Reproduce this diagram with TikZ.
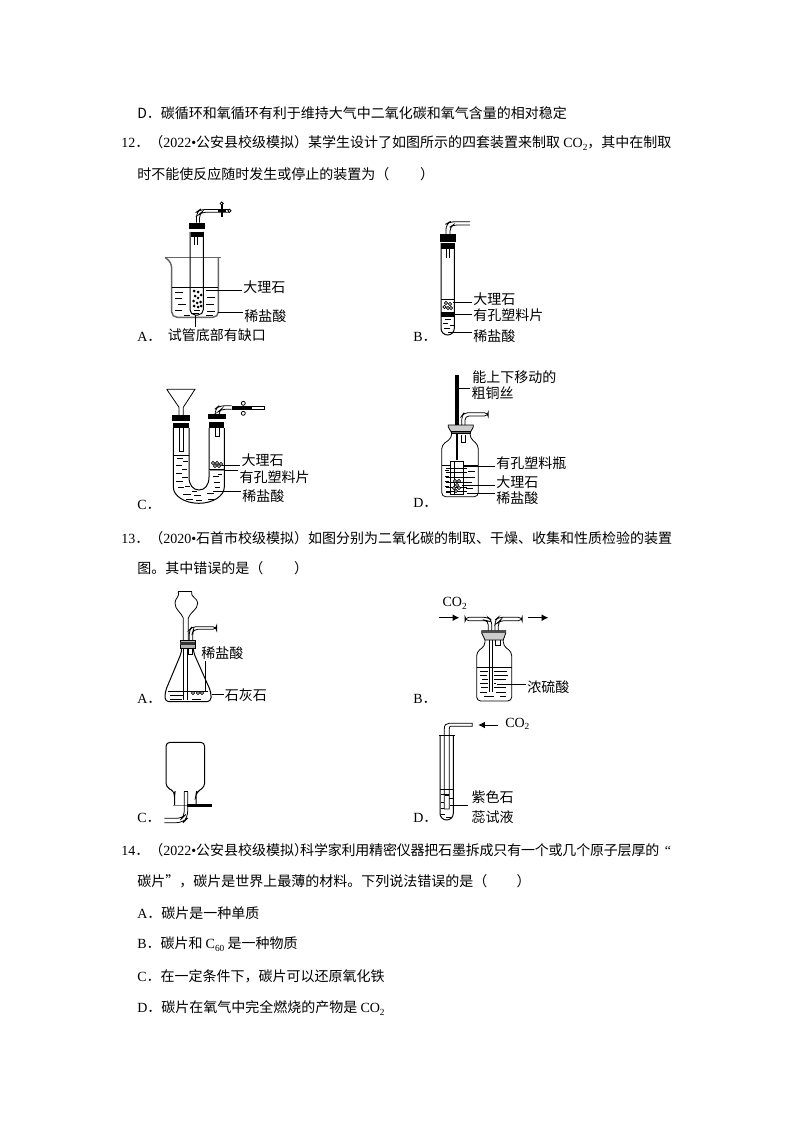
\documentclass[tikz,border=0pt]{standalone}
\usepackage{fontspec}
\setmainfont{Noto Sans CJK SC}
\newfontfamily\latf{Liberation Serif}
\newcommand{\lt}[1]{{\latf #1}}
\newcommand{\sbs}[1]{\raisebox{-0.35ex}{\latf\scriptsize #1}}
\usetikzlibrary{arrows.meta}
\tikzset{
  x=0.75pt,y=-0.75pt,
  line/.style={draw=black,line width=0.6pt},
  leader/.style={draw=black,line width=0.6pt},
  glass/.style={draw=black,line width=0.75pt},
  graywall/.style={draw=black!60,line width=1.1pt},
  liquid/.style={draw=black,line width=0.5pt},
  plug/.style={fill=black,draw=none},
  txt/.style={anchor=west,inner sep=0pt,font=\fontsize{10.5pt}{10.5pt}\selectfont},
  lbl/.style={anchor=west,inner xsep=0.75pt,inner ysep=0pt,font=\fontsize{10.5pt}{10.5pt}\selectfont},
  flow/.style={draw=black,line width=0.6pt,-{Latex[length=5pt,width=5pt]}},
}
% horizontal dash: x, y, length
\newcommand{\dsh}[1]{\foreach \a/\b/\c in {#1}{\draw[liquid] (\a,\b) -- ++(\c,0);}}
\newcommand{\balls}[1]{\foreach \a/\b in {#1}{\draw[line width=0.5pt,fill=white] (\a,\b) circle (1.7);}}
\begin{document}
\begin{tikzpicture}
\useasboundingbox (0,0) rectangle (794,1123);
\fill[white] (0,0) rectangle (794,1123);
%---- text lines
\node[txt] (t1) at (137,113) {D．碳循环和氧循环有利于维持大气中二氧化碳和氧气含量的相对稳定};
\node[txt] (t2) at (121,143) {\lt{12}．（\lt{2022•}公安县校级模拟）某学生设计了如图所示的四套装置来制取 \lt{CO}\sbs{2}，其中在制取};
\node[txt] (t3) at (137,174) {时不能使反应随时发生或停止的装置为（\hspace{2.2em}）};
\node[txt] (t4) at (121,538) {\lt{13}．（\lt{2020•}石首市校级模拟）如图分别为二氧化碳的制取、干燥、收集和性质检验的装置};
\node[txt] (t5) at (137,568) {图。其中错误的是（\hspace{2.2em}）};
\node[txt] (t6) at (121,850) {\lt{14}．（\lt{2022•}公安县校级模拟）\hspace{-0.57em}{\addfontfeature{LetterSpace=-1.4}科学家利用精密仪器把石墨拆成只有一个或几个原子层厚的}\hspace{0.4em}\lt{“}};
\node[txt] (t7) at (137,881) {碳片”，碳片是世界上最薄的材料。下列说法错误的是（\hspace{2.1em}）};
\node[txt] (t8) at (137,913) {\lt{A}．碳片是一种单质};
\node[txt] (t9) at (137,944) {\lt{B}．碳片和 \lt{C}\sbs{60} 是一种物质};
\node[txt] (t10) at (137,976) {\lt{C}．在一定条件下，碳片可以还原氧化铁};
\node[txt] (t11) at (137,1008) {\lt{D}．碳片在氧气中完全燃烧的产物是 \lt{CO}\sbs{2}};
\node[txt] (o1) at (137,337) {\lt{A}．};
\node[txt] (o2) at (413,337) {\lt{B}．};
\node[txt] (o3) at (137,505) {\lt{C}．};
\node[txt] (o4) at (413,503) {\lt{D}．};
\node[txt] (o5) at (137,699) {\lt{A}．};
\node[txt] (o6) at (413,699) {\lt{B}．};
\node[txt] (o7) at (137,818) {\lt{C}．};
\node[txt] (o8) at (413,818) {\lt{D}．};

%---- Q12 A
\draw[graywall] (165,257.5) -- (220.7,257.5);
\draw[graywall,rounded corners=4] (165,257.5) -- (171.5,262) -- (171.7,317.3) -- (218.3,317.3) -- (218.3,258);
\draw[line] (171.7,287.7) -- (218.3,287.7);
\dsh{175/292/8,206/290/7,175/298/7,207/297/8,178/304/8,206/304/8,175/310/7,207/311/8,184/315/6,206/315/7,194/310/6,192/313/7}
\draw[glass,rounded corners=4] (190,232) -- (190,315) -- (203.3,315) -- (203.3,232);
\fill[plug] (189,222.7) rectangle (205,229.3);
\fill[plug] (190.7,231.7) rectangle (203.3,237.3);
\draw[line] (194,237) -- (194,245) (197.7,237) -- (197.7,245);
\draw[line,rounded corners=4] (196.5,222.7) -- (196.5,212) -- (200,209.5) -- (230,209.5);
\draw[line,rounded corners=3] (199.5,222.7) -- (199.5,214) -- (201.5,212.3) -- (230,212.3);
\fill[plug] (218,209.3) rectangle (226,212.5);
\draw[line,line width=1.2pt] (221.7,204) -- (221.7,217);
\draw[line,fill=white] (221.7,203.5) circle (1.6);
\draw[line,fill=white] (229.5,210.8) circle (1.6);
\foreach \a/\b in {194/291,198/292,201/295,195/296,198/298,193.5/301,197/303,200.5/302,194/306,198/307,201/306}{\fill (\a,\b) circle (1.5);}
\foreach \a/\b in {196/294,199.5/299,195.5/304}{\fill[white] (\a,\b) circle (0.8);}
\node[lbl] (a1) at (242,286.7) {大理石};
\node[lbl] (a2) at (243,315.7) {稀盐酸};
\node[lbl] (a3) at (166.7,335) {试管底部有缺口};
\draw[leader] (207,290) -- (207,290 -| a1.west);
\draw[leader] (218,312.3) -- (218,312.3 -| a2.west);
\draw[leader] (195.7,315) -- (195.7,327);

%---- Q12 B
\draw[glass,rounded corners=5] (441,243) -- (441,335) -- (454.3,335) -- (454.3,243);
\fill[plug] (440,234.3) rectangle (455.7,241.7);
\fill[plug] (441,243.3) rectangle (454.3,249.3);
\draw[line] (446,249) -- (446,257.7) (449.3,249) -- (449.3,257.7);
\draw[line,rounded corners=4] (446,234.3) -- (446,224) -- (450,221.7) -- (470,221.7);
\draw[line,rounded corners=3] (450,234.3) -- (450,227) -- (453,225) -- (470,225);
\draw[line] (441,299.3) -- (454.3,299.3);
\fill[plug] (441,312.3) rectangle (454.3,316.7);
\dsh{445/319/6,443/323/5,450/325/4,444/328/6,448/332/5}
\balls{446/303,450/304,444.5/307,448/308,451/308}
\node[lbl] (b1) at (472,299) {大理石};
\node[lbl] (b2) at (472,315) {有孔塑料片};
\node[lbl] (b3) at (472,336) {稀盐酸};
\draw[leader] (453.3,302.7) -- (453.3,302.7 -| b1.west);
\draw[leader] (454.3,314.3) -- (454.3,314.3 -| b2.west);
\draw[leader] (451.7,332.3) -- (451.7,332.3 -| b3.west);

%---- Q12 C
\draw[line] (166.7,389.3) -- (195,389.3) -- (183.3,407.3) -- (183.3,415) (166.7,389.3) -- (179,407.3) -- (179,415);
\draw[line] (179,428) -- (179,451.7) -- (183.3,451.7) -- (183.3,428);
\fill[plug] (172.3,415) rectangle (190,420.7);
\fill[plug] (173.3,422.7) rectangle (189,428.3);
\fill[plug] (207.7,414.3) rectangle (225.7,419.3);
\fill[plug] (209.3,421.7) rectangle (224.3,427.7);
\draw[glass] (173.3,428) -- (173.3,487) arc[start angle=180,end angle=360,x radius=25.5,y radius=-16.3] -- (224.3,428);
\draw[glass] (189,428) -- (189,477) .. controls (189,485) and (193,490) .. (199,490) .. controls (205,490) and (209,485) .. (209,477) -- (209,428);
\draw[line] (173.3,455) -- (189,455);
\fill[black!45] (209.3,469) rectangle (224.3,471.3);
\draw[line] (209.3,469) -- (224.3,469);
\draw[line] (215,428) -- (215,436.7) -- (219,436.7) -- (219,428);
\balls{213/463,217/463,221/464,215/466,219/466}
\dsh{177/458/6,183/461/5,176/465/6,182/469/5,176/473/6,182/477/6,176/481/7,178/487/6,185/486/5,183/494/8,194/495/7,207/493/7,215/487/5,213/476/6,218/474/4,214/482/6,186/499/7,196/500/6,208/499/6,192/491/5}
\draw[line,rounded corners=4] (215,414.3) -- (215,409) -- (219,405.8) -- (231.7,405.8);
\draw[line,rounded corners=3] (219,414.3) -- (219,411) -- (221,409.3) -- (231.7,409.3);
\fill[plug] (231.7,405.7) rectangle (251.7,410);
\draw[line] (251.7,406.2) -- (264.3,406.2) -- (264.3,409.4) -- (251.7,409.4);
\draw[line,fill=white] (243.3,403.3) circle (2);
\draw[line,fill=white] (243.3,413.3) circle (2);
\node[lbl] (c1) at (240.3,460) {大理石};
\node[lbl] (c2) at (238.3,477.3) {有孔塑料片};
\node[lbl] (c3) at (241,495.7) {稀盐酸};
\draw[leader] (221.7,465) -- (221.7,465 -| c1.west);
\draw[leader] (225,470.7) -- (225,470.7 -| c2.west);
\draw[leader] (213.3,491) -- (213.3,491 -| c3.west);

%---- Q12 D
\draw[line width=2.6pt,black] (457,375) -- (457,425);
\draw[line width=1.1pt,black] (457,433) -- (457,460);
\draw[line,fill=black!20] (448.3,425) -- (473.3,425) -- (473.3,427) -- (470,433) -- (451.7,433) -- (448.3,427) -- cycle;
\draw[line,fill=black!60] (451.2,431) rectangle (470.5,433);
\draw[line,rounded corners=3] (451.7,433) -- (451.7,438) -- (441.7,445) -- (441.7,496.7) -- (478.3,496.7) -- (478.3,445) -- (470,438) -- (470,433);
\draw[line,rounded corners=3] (461.7,425) -- (461.7,416) -- (464,412.7) -- (488.3,412.7) -- (488.3,416) -- (465,416) -- (465,425);
\draw[line] (461.7,435) -- (461.7,442) -- (465,442) -- (465,435);
\draw[line] (441.7,465) -- (478.3,465);
\draw[line,fill=white] (450,461.7) rectangle (463.3,494.3);
\foreach \yy in {468,472,477,482,487,491}{\draw[line,line width=0.5pt] (446,\yy) -- (467,\yy);}
\draw[line,line width=0.5pt] (454,461.7) -- (454,494.3);
\balls{455/481,459/481,457/485,454/488,459/488,456/491}
\dsh{445/470/4,468/471/7,445/476/4,467/477/8,445/481/4,466/482/6,445/486/4,466/488/7,446/492/4}
\node[lbl] (d0) at (471,377.3) {能上下移动的};
\node[lbl] (d00) at (470.3,393.3) {粗铜丝};
\node[lbl] (d1) at (495,463.3) {有孔塑料瓶};
\node[lbl] (d2) at (495,481.7) {大理石};
\node[lbl] (d3) at (495,498.5) {稀盐酸};
\draw[leader] (458.3,388.3) -- (458.3,388.3 -| d00.west);
\draw[leader] (463.3,466.7) -- (463.3,466.7 -| d1.west);
\draw[leader] (461.7,485) -- (461.7,485 -| d2.west);
\draw[leader] (466.7,493.3) -- (466.7,493.3 -| d3.west);

%---- Q13 A
\draw[line] (178.3,591.7) -- (191.7,591.7);
\draw[line] (183.3,640) -- (183.3,618) .. controls (181,612) and (175,610) .. (175,603) .. controls (175,598) and (180,597) .. (178.3,591.7) (188.3,640) -- (188.3,618) .. controls (190,612) and (197.7,610) .. (197.7,603) .. controls (197.7,598) and (190,597) .. (191.7,591.7);
\draw[line] (183.3,648) -- (183.3,700) (187,648) -- (187,700);
\draw[line,fill=black!30] (180,640) rectangle (195,648.3);
\fill[black!80] (180,642) rectangle (195,645);
\draw[line,rounded corners=3] (189.3,640) -- (189.3,630) -- (192,626.7) -- (216.7,626.7) -- (216.7,629.3) -- (193.5,629.3) -- (192.7,632) -- (192.7,640);
\draw[line] (188.3,648.3) -- (188.3,654) -- (192.3,654) -- (192.3,648.3);
\draw[glass,rounded corners=3] (181.7,648.3) -- (181.7,652) -- (165,692) -- (165,701.7) -- (211,701.7) -- (211,692) -- (193.3,652) -- (193.3,648.3);
\draw[line] (168,691) -- (208,691);
\dsh{170/695/13,170/699/12,192/699/9}
\balls{193/693,198/693,202/693}
\node[lbl] (e1) at (200,652.7) {稀盐酸};
\node[lbl] (e2) at (223.5,695) {石灰石};
\draw[leader] (205,661) -- (205,691);
\draw[leader] (211.7,694) -- (211.7,694 -| e2.west);

%---- Q13 B
\node[txt] (co1) at (442.3,603.3) {\lt{CO}\sbs{2}};
\coordinate (fa1) at (439.3,617.7); \coordinate (fa2) at (459.3,617.7);
\coordinate (fb1) at (528.3,617.7); \coordinate (fb2) at (548.3,617.7);
\draw[flow] (fa1) -- (fa2);
\draw[flow] (fb1) -- (fb2);
\draw[line,rounded corners=3] (488.3,631) -- (488.3,621) -- (487,620.7) -- (465,620.7) -- (465,617.3) -- (488,617.3) -- (491.7,620) -- (491.7,631);
\draw[line,rounded corners=3] (495,631) -- (495,620) -- (498.3,617.3) -- (522.3,617.3) -- (522.3,620.7) -- (499.7,620.7) -- (498.3,622) -- (498.3,631);
\draw[line,fill=black!20] (481.7,630.7) -- (505.7,630.7) -- (505.7,633) -- (503.3,640) -- (485,640) -- (481.7,633) -- cycle;
\fill[black!70] (482,630.7) rectangle (505.5,633);
\draw[line,rounded corners=3] (485,640) -- (485,646) -- (476.7,651.7) -- (476.7,701) -- (511.7,701) -- (511.7,651.7) -- (503.3,646) -- (503.3,640);
\draw[line] (489,640) -- (489,691.7) (492.3,640) -- (492.3,691.7);
\draw[line] (495,640) -- (495,645) -- (500,645) -- (500,640);
\draw[line] (476.7,667.3) -- (511.7,667.3);
\dsh{480/671/8,494/671/13,480/675/7,494/675/14,482/679/6,494/679/12,480/683/8,494/683/2,481/687/7,494/687/12,480/692/7,496/692/10,484/696/10,500/696/6}
\node[lbl] (f1) at (526,687.3) {浓硫酸};
\draw[leader] (496.7,684.3) -- (496.7,684.3 -| f1.west);

%---- Q13 C
\draw[glass,rounded corners=3] (174.5,805.3) -- (174.5,795) -- (175,792) -- (166,787) -- (166,742.3) -- (204.7,742.3) -- (204.7,787) -- (196.5,792) -- (196,795) -- (196,805.3);
\draw[draw=black!50,line width=0.8pt] (173.3,805.3) -- (187,805.3);
\draw[line width=1.8pt,black] (187,805.3) -- (211.7,805.3);
\draw[line,rounded corners=4] (184.3,791.7) -- (184.3,816) -- (182,818.3) -- (164.3,818.3);
\draw[line] (187.7,791.7) -- (184.3,791.7);
\draw[line,rounded corners=5] (187.7,791.7) -- (187.7,818) -- (183,822.7) -- (164.3,822.7);

%---- Q13 D
\draw[line] (438.5,735) -- (454.8,735);
\draw[glass,rounded corners=5] (440,735) -- (440,820) -- (453.3,820) -- (453.3,735);
\draw[line] (444.3,809) -- (444.3,729) .. controls (444.3,725) and (446,723.3) .. (449,723.3) -- (472.3,723.3) -- (472.3,726.2) -- (450.5,726.2) .. controls (449.5,726.2) and (449.3,727.5) .. (449.3,729) -- (449.3,809) -- cycle;
\draw[line] (440,789) -- (453.3,789);
\dsh{441/794/8,449/798/4,441/802/3,450/805/3,441/808/3,441/814/4,446/817/5}
\draw[line] (445,795) -- (449,795);
\node[txt] (co2) at (505,724) {\lt{CO}\sbs{2}};
\coordinate (fc1) at (498.3,725); \coordinate (fc2) at (478.3,725);
\draw[flow] (fc1) -- (fc2);
\node[lbl] (g1) at (470.3,797.3) {紫色石};
\node[lbl] (g2) at (470.3,817.3) {蕊试液};
\draw[leader] (451.7,805.7) -- (468.3,805.7);
\end{tikzpicture}
\end{document}
